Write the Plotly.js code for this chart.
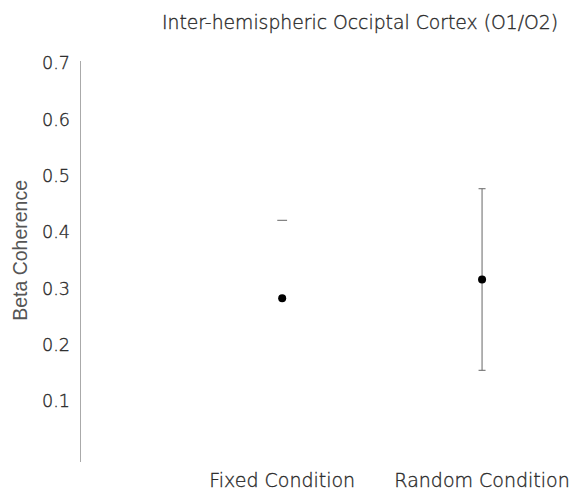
<!DOCTYPE html>
<html>
<head>
<meta charset="utf-8">
<script src="https://cdn.plot.ly/plotly-3.0.1.min.js"></script>
<style>
html,body{margin:0;padding:0;background:#fff;}
#chart{width:577px;height:492px;}
#chart text.gtitle, #chart .xtick text, #chart .ytick text { stroke: #2a2a2a; stroke-width: 0.35px; }
</style>
</head>
<body>
<div id="chart"></div>
<script>
const categories = ["Fixed Condition", "Random Condition"];
const means = [0.283, 0.316];
const errors = [0.138, 0.161];
const yTickVals = [0.1, 0.2, 0.3, 0.4, 0.5, 0.6, 0.7];
const yTickText = ["0.1", "0.2", "0.3", "0.4", "0.5", "0.6", "0.7"];
const yTitle = "Beta Coherence";

const xIdx = categories.map((c, i) => i);
const font = "'DejaVu Sans', sans-serif";
const wt = 200;
const txt = "#2a2a2a";

const traces = [
  {
    x: [xIdx[1]], y: [means[1]],
    type: "scatter", mode: "markers",
    marker: {color: "#000", size: 8},
    error_y: {type: "data", array: [errors[1]], visible: true, color: "#666", thickness: 1, width: 3.5},
    showlegend: false, hoverinfo: "skip"
  },
  {
    x: [xIdx[0]], y: [means[0] + errors[0]],
    type: "scatter", mode: "markers",
    marker: {symbol: "line-ew-open", color: "#666", size: 7, line: {color: "#666", width: 1}},
    showlegend: false, hoverinfo: "skip"
  },
  {
    x: [xIdx[0]], y: [means[0]],
    type: "scatter", mode: "markers",
    marker: {color: "#000", size: 8},
    showlegend: false, hoverinfo: "skip"
  }
];

const layout = {
  width: 577, height: 492,
  margin: {l: 81, r: 0, t: 61, b: 30, pad: 0},
  paper_bgcolor: "#fff", plot_bgcolor: "#fff",
  font: {family: font, color: txt, size: 17, weight: wt},
  title: {text: "Inter-hemispheric Occiptal Cortex (O1/O2)", x: 0.624, xref: "container", xanchor: "center", y: 0.955, yref: "container", yanchor: "middle", font: {family: font, size: 18.8, color: txt, weight: wt}},
  xaxis: {
    range: [-1.0065, 1.475], tickvals: xIdx, ticktext: categories,
    showline: false, showgrid: false, zeroline: false, ticks: "",
    tickfont: {family: font, size: 19, color: txt, weight: wt}, ticklabelstandoff: 5, fixedrange: true
  },
  yaxis: {
    range: [-0.0076, 0.7035], tickvals: yTickVals, ticktext: yTickText,
    showline: true, linecolor: "#aaa", linewidth: 1.5, showgrid: false, zeroline: false, ticks: "",
    tickfont: {family: font, size: 17.6, color: txt, weight: wt}, ticklabelstandoff: 6
  },
  annotations: [{
    text: yTitle, textangle: -90, showarrow: false,
    xref: "paper", yref: "paper", x: -0.123, y: 0.529, xanchor: "center", yanchor: "middle",
    font: {family: "'Liberation Sans', Arial, sans-serif", size: 19.5, color: "#555", weight: 400}
  }]
};

Plotly.newPlot("chart", traces, layout, {displayModeBar: false, staticPlot: true});
</script>
</body>
</html>
